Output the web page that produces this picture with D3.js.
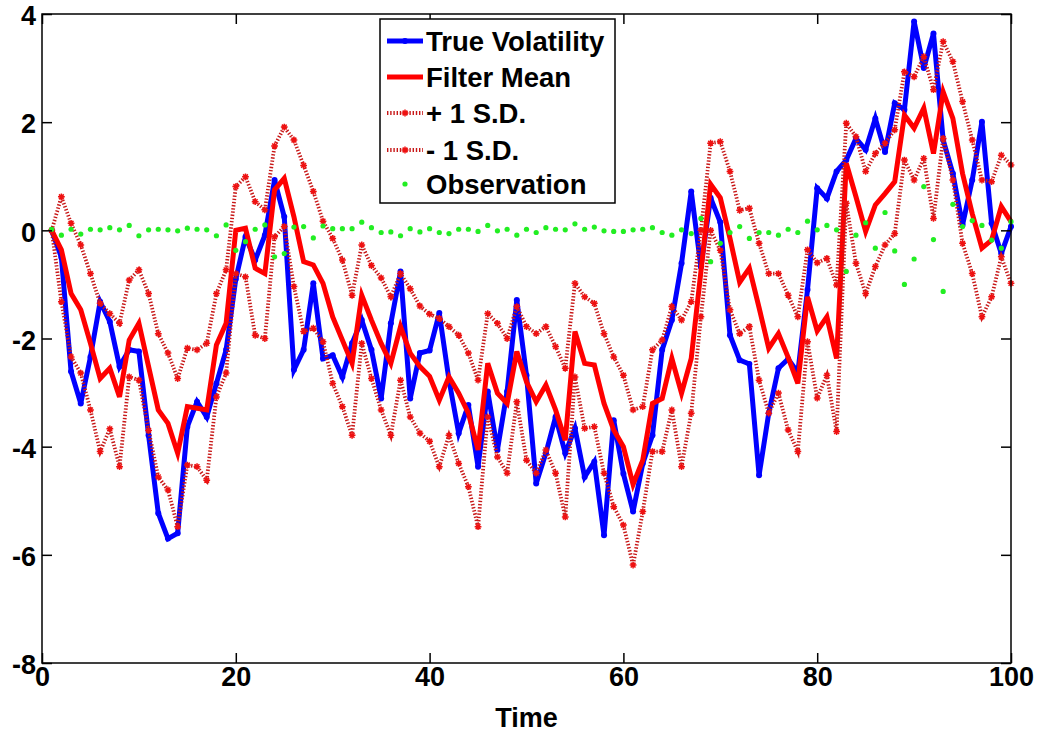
<!DOCTYPE html>
<html>
<head>
<meta charset="utf-8">
<script src="https://cdn.jsdelivr.net/npm/d3@7"></script>
<style>
  body { margin: 0; background: #fff; }
  svg { display: block; font-family: "Liberation Sans", Arial, Helvetica, sans-serif; }
</style>
</head>
<body>
<div id="chart"></div>
<script>
// time steps 1..100 (axis runs 0..100)
const time = d3.range(1, 101);

const trueVolatility = [
  0, -0.5, -2.61, -3.2, -2.34, -1.32, -1.69, -2.52, -2.21, -2.24,
  -3.79, -5.23, -5.7, -5.6, -3.63, -3.17, -3.45, -2.83, -2.21, -0.9,
  -0.12, -0.55, -0.09, 0.93, 0.25, -2.58, -2.21, -0.98, -2.37, -2.31,
  -2.71, -2.09, -1.66, -2.21, -3.11, -1.72, -0.76, -3.11, -2.27, -2.22,
  -1.53, -2.77, -3.75, -3.23, -4.37, -2.98, -4.06, -2.98, -1.29, -2.68,
  -4.68, -4.12, -3.45, -4.12, -3.66, -4.56, -4.28, -5.64, -3.51, -4.5,
  -5.2, -4.31, -3.79, -2.21, -1.66, -0.61, 0.72, -0.68, 0.6, 0.15,
  -1.94, -2.4, -2.47, -4.53, -3.38, -2.55, -2.38, -2.63, -1.1, 0.78,
  0.59, 1.09, 1.3, 1.7, 1.49, 2.07, 1.45, 2.35, 2.23, 3.86,
  3.0, 3.64, 1.67, 1.05, 0.1, 0.93, 2.01, 0.13, -0.43, 0.07
];

const filterMean = [
  0, -0.36, -1.17, -1.47, -2.09, -2.74, -2.55, -3.08, -2.03, -1.72,
  -2.52, -3.32, -3.57, -4.12, -3.26, -3.29, -3.32, -2.12, -1.72, 0.0,
  0.04, -0.7, -0.8, 0.75, 0.96, 0.25, -0.58, -0.64, -0.98, -1.6,
  -2.03, -2.46, -1.2, -1.66, -2.09, -2.46, -1.78, -2.27, -2.52, -2.7,
  -3.14, -2.71, -3.01, -3.38, -4.06, -2.46, -3.01, -3.2, -2.24, -2.8,
  -3.17, -2.86, -3.32, -3.88, -1.87, -2.46, -2.49, -3.2, -3.69, -4.0,
  -4.7, -4.25, -3.2, -3.11, -2.37, -3.01, -2.37, -0.76, 0.85, 0.6,
  -0.15, -0.96, -0.7, -1.43, -2.18, -1.91, -2.35, -2.83, -1.23, -1.86,
  -1.6, -2.37, 1.24, 0.62, -0.02, 0.47, 0.68, 0.9, 2.13, 1.89,
  2.26, 1.42, 2.56, 2.07, 1.05, 0.31, -0.33, -0.18, 0.44, 0.16
];

const plusOneSD = [
  0, 0.62, 0.13, -0.27, -0.8, -1.35, -1.54, -1.72, -0.92, -0.73,
  -1.17, -1.91, -2.27, -2.74, -2.18, -2.21, -2.09, -1.17, -0.73, 0.81,
  0.99, 0.53, 0.38, 1.56, 1.91, 1.67, 1.2, 0.72, 0.17, -0.15,
  -0.55, -1.2, -0.27, -0.65, -0.88, -1.23, -0.8, -1.08, -1.4, -1.55,
  -1.63, -1.78, -1.94, -2.27, -2.77, -1.54, -1.72, -2.0, -1.41, -1.78,
  -1.91, -1.78, -2.15, -2.55, -0.98, -1.23, -1.35, -1.91, -2.34, -2.68,
  -3.32, -3.26, -2.21, -2.03, -1.41, -1.66, -1.32, 0.0, 1.61, 1.64,
  1.09, 0.37, 0.41, -0.24, -0.8, -0.8, -1.2, -1.6, -0.36, -0.6,
  -0.52, -1.01, 1.98, 1.73, 1.09, 1.42, 1.61, 1.86, 2.93, 2.84,
  3.21, 2.6, 3.49, 3.12, 2.38, 1.67, 0.93, 0.9, 1.39, 1.21
];

const minusOneSD = [
  0, -1.32, -2.34, -2.64, -3.32, -4.09, -3.67, -4.37, -2.71, -2.77,
  -3.7, -4.56, -4.8, -5.48, -4.34, -4.37, -4.62, -3.08, -2.64, -0.8,
  -0.86, -1.94, -2.0, -0.12, 0.07, -1.04, -1.87, -1.81, -2.06, -2.83,
  -3.26, -3.79, -2.09, -2.74, -3.32, -3.79, -2.77, -3.45, -3.75, -3.9,
  -4.37, -3.79, -4.31, -4.74, -5.48, -3.45, -4.19, -4.49, -3.17, -4.25,
  -4.49, -4.06, -4.49, -5.3, -2.71, -3.66, -3.63, -4.49, -5.11, -5.45,
  -6.19, -5.2, -4.09, -4.09, -3.32, -4.37, -3.38, -1.6, 0.0, -0.37,
  -1.47, -1.91, -1.78, -2.77, -3.38, -3.01, -3.69, -4.09, -2.06, -3.1,
  -2.68, -3.72, 0.5, -0.61, -1.17, -0.67, -0.27, -0.06, 1.3, 0.93,
  1.33, 0.22, 1.7, 0.93, -0.24, -0.8, -1.6, -1.23, -0.49, -0.98
];

const observation = [
  0.02, -0.09, 0.02, -0.07, 0.02, 0.01, 0.05, 0.01, 0.09, -0.1,
  0.01, 0.02, 0.01, -0.01, 0.04, 0.02, 0.01, -0.1, 0.1, -0.37,
  -0.21, 0.02, 0.1, -0.49, -0.43, 0.06, 0.07, -0.14, 0.08, 0.03,
  0.03, 0.03, 0.15, 0.05, -0.04, -0.03, -0.1, 0.03, -0.03, 0.03,
  -0.04, -0.06, 0.02, 0.02, -0.02, 0.09, -0.01, 0.02, -0.09, 0.02,
  -0.04, 0.05, 0.02, 0.01, 0.12, 0.02, 0.06, -0.01, -0.02, -0.02,
  0.01, 0.02, 0.05, -0.04, -0.09, 0.01, -0.06, 0.22, -0.58, -0.24,
  -0.04, 0.07, -0.15, -0.04, -0.04, -0.09, 0.02, -0.04, 0.17, 0.01,
  0.09, 0.01, -0.76, -0.09, 0.14, -0.33, 0.33, -0.38, -1.0, -0.53,
  0.81, -0.17, -1.13, 0.48, 0.07, 0.18, 0.09, -0.18, -0.33, 0.16
];

const xTicks = [0, 20, 40, 60, 80, 100];
const yTicks = [-8, -6, -4, -2, 0, 2, 4];
const legendLabels = ["True Volatility", "Filter Mean", "+ 1 S.D.", "- 1 S.D.", "Observation"];

const width = 1039;
const height = 736;
const marginTop = 14;
const marginRight = 28;
const marginBottom = 73;
const marginLeft = 42;
const fontSize = 27;

const x = d3.scaleLinear().domain([0, 100]).range([marginLeft, width - marginRight]);
const y = d3.scaleLinear().domain([-8, 4]).range([height - marginBottom, marginTop]);

const svg = d3.create("svg")
    .attr("width", width)
    .attr("height", height)
    .attr("viewBox", [0, 0, width, height]);

svg.append("rect").attr("width", width).attr("height", height).attr("fill", "white");

const asterisk = "M-3.4,0H3.4M0,-3.4V3.4M-2.4,-2.4L2.4,2.4M-2.4,2.4L2.4,-2.4";

const line = (vals) => d3.line()
    .x((d, i) => x(time[i]))
    .y(d => y(d))(vals);

// true volatility
svg.append("path")
    .attr("d", line(trueVolatility))
    .attr("fill", "none")
    .attr("stroke", "#0000ff")
    .attr("stroke-width", 5);

svg.append("g")
    .attr("fill", "#0000ff")
    .selectAll("circle")
    .data(trueVolatility)
    .join("circle")
      .attr("cx", (d, i) => x(time[i]))
      .attr("cy", d => y(d))
      .attr("r", 3);

// filter mean
svg.append("path")
    .attr("d", line(filterMean))
    .attr("fill", "none")
    .attr("stroke", "#ff0000")
    .attr("stroke-width", 5);

// +/- 1 S.D.
for (const band of [plusOneSD, minusOneSD]) {
  svg.append("path")
      .attr("d", line(band))
      .attr("fill", "none")
      .attr("stroke", "#c81818")
      .attr("stroke-width", 3.8)
      .attr("stroke-dasharray", "1.4,1.8");

  svg.append("g")
      .attr("stroke", "#ee1111")
      .attr("stroke-width", 1.5)
      .selectAll("path")
      .data(band)
      .join("path")
        .attr("transform", (d, i) => `translate(${x(time[i])},${y(d)})`)
        .attr("d", asterisk);
}

// observations
svg.append("g")
    .attr("fill", "#22ee22")
    .selectAll("circle")
    .data(observation)
    .join("circle")
      .attr("cx", (d, i) => x(time[i]))
      .attr("cy", d => y(d))
      .attr("r", 2.6);

// axes
const styleAxis = g => {
  g.select(".domain").remove();
  g.selectAll(".tick line").attr("stroke", "black").attr("stroke-width", 1.5);
  g.selectAll(".tick text")
      .attr("fill", "black")
      .attr("font-size", fontSize)
      .attr("font-weight", "bold");
};

svg.append("g")
    .attr("transform", `translate(0,${height - marginBottom})`)
    .call(d3.axisBottom(x).tickValues(xTicks).tickSizeInner(-10).tickSizeOuter(0).tickPadding(4))
    .call(styleAxis);

svg.append("g")
    .attr("transform", `translate(0,${marginTop})`)
    .call(d3.axisTop(x).tickValues(xTicks).tickSizeInner(-10).tickSizeOuter(0).tickFormat(""))
    .call(styleAxis);

svg.append("g")
    .attr("transform", `translate(${marginLeft},0)`)
    .call(d3.axisLeft(y).tickValues(yTicks).tickSizeInner(-10).tickSizeOuter(0).tickPadding(6)
        .tickFormat(d => String(d)))
    .call(styleAxis)
    .call(g => g.selectAll(".tick text").attr("dy", "0.4em"));

svg.append("g")
    .attr("transform", `translate(${width - marginRight},0)`)
    .call(d3.axisRight(y).tickValues(yTicks).tickSizeInner(-10).tickSizeOuter(0).tickFormat(""))
    .call(styleAxis);

svg.append("rect")
    .attr("x", marginLeft)
    .attr("y", marginTop)
    .attr("width", width - marginLeft - marginRight)
    .attr("height", height - marginTop - marginBottom)
    .attr("fill", "none")
    .attr("stroke", "black")
    .attr("stroke-width", 1.5);

svg.append("text")
    .attr("x", (marginLeft + width - marginRight) / 2)
    .attr("y", 727)
    .attr("text-anchor", "middle")
    .attr("font-size", fontSize)
    .attr("font-weight", "bold")
    .text("Time");

// legend
const legend = svg.append("g").attr("transform", "translate(380,19)");
legend.append("rect")
    .attr("width", 235)
    .attr("height", 184)
    .attr("fill", "white")
    .attr("stroke", "black")
    .attr("stroke-width", 1.5);

const rowY = [22, 58, 94, 131, 165];
const rows = legend.selectAll("g.row")
    .data(legendLabels)
    .join("g")
      .attr("class", "row")
      .attr("transform", (d, i) => `translate(0,${rowY[i]})`);

rows.append("text")
    .attr("x", 46)
    .attr("dy", "0.36em")
    .attr("font-size", 27.5)
    .attr("font-weight", "bold")
    .attr("fill", "black")
    .text(d => d);

rows.each(function(d, i) {
  const r = d3.select(this);
  if (i === 0 || i === 1) {
    r.append("line")
        .attr("x1", 7).attr("x2", 43)
        .attr("stroke", i === 0 ? "#0000ff" : "#ff0000")
        .attr("stroke-width", 5);
    if (i === 0) r.append("circle").attr("cx", 25).attr("r", 3).attr("fill", "#0000ff");
  } else if (i === 2 || i === 3) {
    r.append("line")
        .attr("x1", 7).attr("x2", 43)
        .attr("stroke", "#c81818")
        .attr("stroke-width", 3.8)
        .attr("stroke-dasharray", "1.4,1.8");
    r.append("path")
        .attr("transform", "translate(25,0)")
        .attr("d", asterisk)
        .attr("stroke", "#ee1111")
        .attr("stroke-width", 1.5);
  } else {
    r.append("circle").attr("cx", 25).attr("r", 2.6).attr("fill", "#22ee22");
  }
});

d3.select("#chart").node().append(svg.node());
</script>
</body>
</html>
